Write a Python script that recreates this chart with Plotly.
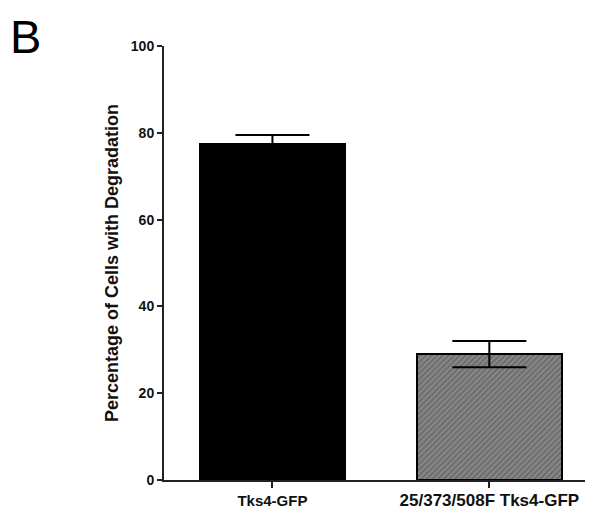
import plotly.graph_objects as go

categories = ["Tks4-GFP", "25/373/508F Tks4-GFP"]
values = [77.5, 29.0]
errors = [2.0, 3.0]
y_ticks = [0, 20, 40, 60, 80, 100]

FONT = "Liberation Sans, Arial, sans-serif"
W, H = 585, 508          # page body has an 8px margin
L, T, B, R = 156, 38, 36, 0
PW, PH = W - L - R, H - T - B

fig = go.Figure()
fig.add_trace(go.Bar(
    x=[0, 1], y=values,
    width=0.67,
    marker=dict(
        color=["#000000", "#868686"],
        line=dict(color="#000000", width=2),
        pattern=dict(shape=["", "/"], fgcolor="#2a2a2a",
                     size=4, solidity=0.35, fillmode="overlay"),
    ),
    error_y=dict(type="data", array=errors, color="#000000", thickness=2, width=37),
))

fig.update_layout(
    width=W, height=H,
    margin=dict(l=L, r=R, t=T, b=B),
    plot_bgcolor="white", paper_bgcolor="white",
    showlegend=False,
    font=dict(family=FONT, color="#111"),
    bargap=0,
)
fig.update_xaxes(
    range=[-0.5, 1.478], automargin=False,
    tickmode="array", tickvals=[0, 1],
    ticktext=["<b>" + categories[0] + "</b>",
              "<b><span style='font-size:17px'>" + categories[1] + "</span></b>"],
    ticks="outside", ticklen=6, tickwidth=2, tickcolor="#222",
    showline=True, linecolor="#222", linewidth=2,
    showgrid=False, zeroline=False,
    tickfont=dict(size=15, family=FONT, color="#111"),
)
fig.update_yaxes(
    range=[0, 100], automargin=False,
    tickmode="array", tickvals=y_ticks,
    ticktext=["<b>" + str(t) + "</b>" for t in y_ticks],
    ticks="outside", ticklen=5, tickwidth=2, tickcolor="#222",
    showline=True, linecolor="#222", linewidth=2,
    showgrid=False, zeroline=False,
    tickfont=dict(size=14, family=FONT, color="#111"),
    title=dict(text="<b>Percentage of Cells with Degradation</b>",
               font=dict(size=18, family=FONT, color="#111"),
               standoff=8),
)
fig.add_annotation(
    text="B", xref="paper", yref="paper", x=-L / PW, y=1 + T / PH,
    xanchor="left", yanchor="top", showarrow=False,
    font=dict(size=47, family=FONT, color="#000"),
    yshift=0,
)
fig.write_html("out.html")
